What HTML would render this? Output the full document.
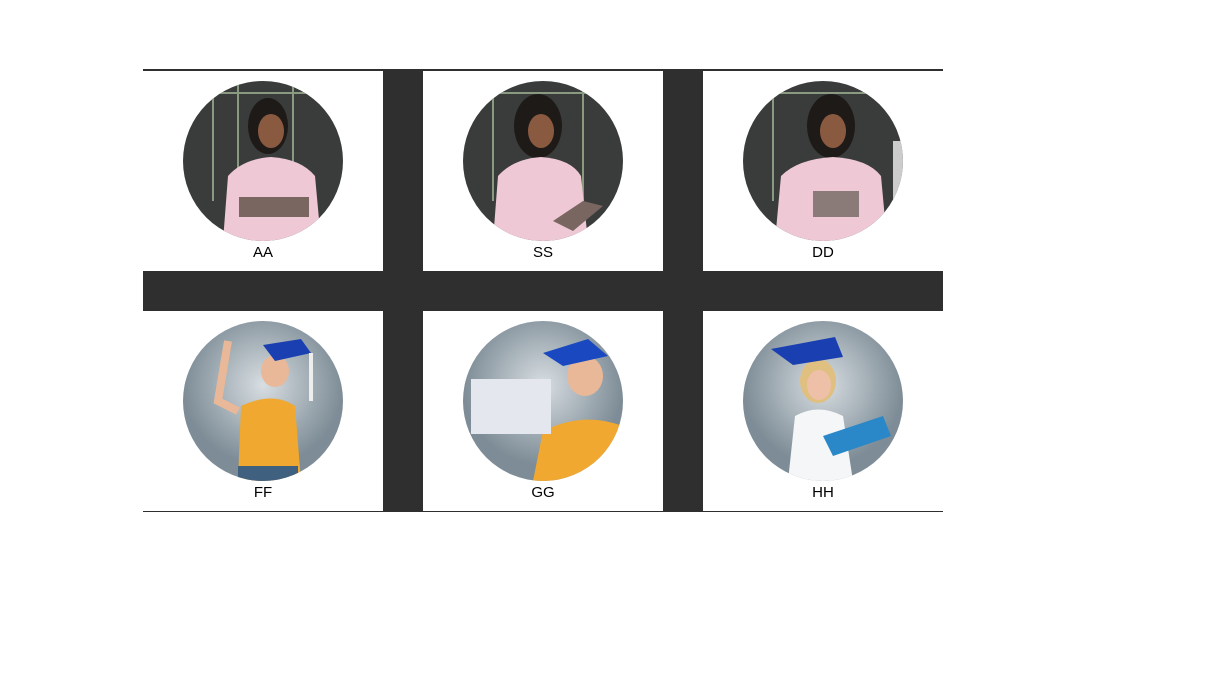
<!DOCTYPE html>
<html><head><meta charset="utf-8"><style>
body{margin:0;width:1213px;height:673px;background:#fff;position:relative;overflow:hidden;font-family:"Liberation Sans","Noto Sans CJK SC",sans-serif}
#grid{position:absolute;left:143px;top:69px;width:800px;height:443px;background:#2f2f2f}
.cell{position:absolute;width:240px;height:200px;background:#fff}
.cell svg{position:absolute;left:40px;top:10px}
.lbl{position:absolute;left:0;width:240px;top:173px;text-align:center;font-size:15px;color:#000}
</style></head><body>
<div id="grid">
<div class="cell" style="left:0;top:2px">
<svg width="160" height="160"><defs><clipPath id="c1"><circle cx="80" cy="80" r="80"/></clipPath></defs><g clip-path="url(#c1)"><rect width="160" height="160" fill="#3a3c3c"/><g stroke="#8a9a80" stroke-width="2"><line x1="30" y1="0" x2="30" y2="120"/><line x1="55" y1="0" x2="55" y2="120"/><line x1="110" y1="0" x2="110" y2="120"/><line x1="0" y1="12" x2="160" y2="12"/></g><ellipse cx="85" cy="45" rx="20" ry="28" fill="#1e1a18"/><ellipse cx="88" cy="50" rx="13" ry="17" fill="#8a5a40"/><path d="M40 160 L45 95 Q60 78 88 76 Q118 78 132 95 L138 160Z" fill="#eec8d4"/><rect x="56" y="116" width="70" height="20" fill="#7a6660"/></g></svg>
<div class="lbl">AA</div></div>
<div class="cell" style="left:280px;top:2px">
<svg width="160" height="160"><g clip-path="url(#c1)"><rect width="160" height="160" fill="#3a3c3c"/><g stroke="#8a9a80" stroke-width="2"><line x1="30" y1="0" x2="30" y2="120"/><line x1="120" y1="0" x2="120" y2="120"/><line x1="0" y1="12" x2="160" y2="12"/></g><ellipse cx="75" cy="45" rx="24" ry="32" fill="#1e1a18"/><ellipse cx="78" cy="50" rx="13" ry="17" fill="#8a5a40"/><path d="M30 160 L35 95 Q50 78 78 76 Q108 78 118 95 L125 160Z" fill="#eec8d4"/><path d="M90 140 L120 120 L140 125 L110 150Z" fill="#7a6660"/></g></svg>
<div class="lbl">SS</div></div>
<div class="cell" style="left:560px;top:2px">
<svg width="160" height="160"><g clip-path="url(#c1)"><rect width="160" height="160" fill="#3a3c3c"/><g stroke="#8a9a80" stroke-width="2"><line x1="30" y1="0" x2="30" y2="120"/><line x1="0" y1="12" x2="160" y2="12"/></g><rect x="150" y="60" width="10" height="60" fill="#ccc"/><ellipse cx="88" cy="45" rx="24" ry="32" fill="#1e1a18"/><ellipse cx="90" cy="50" rx="13" ry="17" fill="#8a5a40"/><path d="M32 160 L38 95 Q55 78 90 76 Q125 78 138 95 L144 160Z" fill="#eec8d4"/><rect x="70" y="110" width="46" height="26" fill="#8a7a78"/></g></svg>
<div class="lbl">DD</div></div>
<div class="cell" style="left:0;top:242px">
<svg width="160" height="160"><defs><radialGradient id="g1" cx="0.5" cy="0.4"><stop offset="0" stop-color="#d8dee2"/><stop offset="1" stop-color="#7d8c96"/></radialGradient></defs><g clip-path="url(#c1)"><rect width="160" height="160" fill="url(#g1)"/><ellipse cx="92" cy="50" rx="14" ry="16" fill="#e8b898"/><polygon points="80,24 118,18 128,32 92,40" fill="#1a3fb0"/><path d="M55 160 L58 85 Q90 70 112 85 L118 160Z" fill="#f0a830"/><path d="M55 90 L35 80 L45 20" stroke="#e8b898" stroke-width="8" fill="none"/><rect x="55" y="145" width="60" height="15" fill="#406080"/><line x1="128" y1="32" x2="128" y2="80" stroke="#eee" stroke-width="4"/></g></svg>
<div class="lbl">FF</div></div>
<div class="cell" style="left:280px;top:242px">
<svg width="160" height="160"><g clip-path="url(#c1)"><rect width="160" height="160" fill="url(#g1)"/><ellipse cx="122" cy="55" rx="18" ry="20" fill="#e8b898"/><polygon points="80,32 125,18 145,35 100,45" fill="#1a48c0"/><path d="M70 160 L80 110 Q120 90 160 105 L160 160Z" fill="#f0a830"/><rect x="8" y="58" width="80" height="55" fill="#e4e8ee"/></g></svg>
<div class="lbl">GG</div></div>
<div class="cell" style="left:560px;top:242px">
<svg width="160" height="160"><g clip-path="url(#c1)"><rect width="160" height="160" fill="url(#g1)"/><ellipse cx="75" cy="60" rx="18" ry="22" fill="#e0c080"/><ellipse cx="76" cy="64" rx="12" ry="15" fill="#eec0a8"/><polygon points="28,28 92,16 100,36 50,44" fill="#1a3fb0"/><path d="M45 160 L52 95 Q75 82 100 95 L110 160Z" fill="#f4f6f8"/><polygon points="80,115 140,95 148,115 90,135" fill="#2a88c8"/></g></svg>
<div class="lbl">HH</div></div>
</div>
<div style="position:absolute;left:143px;top:511px;width:800px;height:1px;background:#2f2f2f"></div>
</body></html>
